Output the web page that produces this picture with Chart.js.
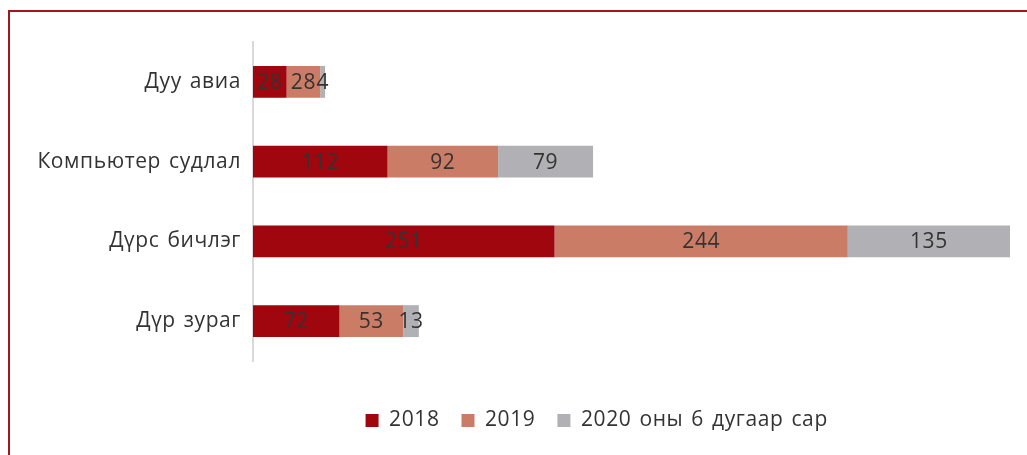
<!DOCTYPE html>
<html>
<head>
<meta charset="utf-8">
<script src="https://cdn.jsdelivr.net/npm/chart.js@4"></script>
<style>
    html, body { margin: 0; padding: 0; background: #fff; }
    #wrap { position: relative; width: 1027px; height: 455px; overflow: hidden; }
    #frame { position: absolute; left: 8px; top: 10px; right: -5px; bottom: -5px;
             border-top: 2px solid #A3161C; border-left: 2px solid #A3161C; }
    canvas { position: absolute; left: 0; top: 0; }
</style>
</head>
<body>
<div id="wrap">
    <div id="frame"></div>
    <canvas id="chart" width="1027" height="455"></canvas>
</div>
<script>
const categories = ['Дуу авиа', 'Компьютер судлал', 'Дүрс бичлэг', 'Дүр зураг'];
const seriesNames = ['2018', '2019', '2020 оны 6 дугаар сар'];
const values2018 = [28, 112, 251, 72];
const values2019 = [28, 92, 244, 53];
const values2020 = [4, 79, 135, 13];
const colors = ['#A0060E', '#CB7C66', '#B1B1B5'];

const textColor = '#333333';
const fontFamily = '"Open Sans", "DejaVu Sans", sans-serif';
const fontSize = 21;

// the original lettering is a little more open than Open Sans
const spacing = {
    id: 'spacing',
    beforeDraw(chart) {
        chart.ctx.letterSpacing = '0.6px';
        chart.ctx.wordSpacing = '2px';
    }
};

// write each value in the middle of its segment
const segmentLabels = {
    id: 'segmentLabels',
    afterDatasetsDraw(chart) {
        const ctx = chart.ctx;
        ctx.save();
        ctx.font = fontSize + 'px ' + fontFamily;
        ctx.fillStyle = textColor;
        ctx.textAlign = 'center';
        ctx.textBaseline = 'middle';
        chart.data.datasets.forEach((ds, i) => {
            chart.getDatasetMeta(i).data.forEach((bar, j) => {
                const p = bar.getProps(['x', 'y', 'base'], true);
                ctx.fillText(ds.data[j], (p.x + p.base) / 2, p.y + 1);
            });
        });
        ctx.restore();
    }
};

// legend sits under the middle of the plot, not the canvas
const legendShift = {
    id: 'legendShift',
    afterLayout(chart) {
        const lg = chart.legend;
        const dx = 584 - (lg.left + lg.right) / 2;
        lg.left += dx;
        lg.right += dx;
    }
};

new Chart(document.getElementById('chart').getContext('2d'), {
    type: 'bar',
    data: {
        labels: categories,
        datasets: [values2018, values2019, values2020].map((d, i) => ({
            label: seriesNames[i],
            data: d,
            backgroundColor: colors[i],
            barPercentage: 0.8,
            categoryPercentage: 0.5
        }))
    },
    options: {
        indexAxis: 'y',
        responsive: false,
        animation: false,
        layout: { padding: { left: 20, right: 17, top: 42, bottom: 14 } },
        scales: {
            x: {
                stacked: true, min: 0, max: 630,
                grid: { display: false },
                border: { display: false },
                ticks: { display: false },
                afterFit(scale) { scale.height = 27; }
            },
            y: {
                stacked: true,
                grid: { display: false },
                border: { display: true, color: '#D9D9D9', width: 2 },
                ticks: { color: textColor, padding: 4, font: { size: fontSize, family: fontFamily } },
                afterFit(scale) { scale.width = 233; }
            }
        },
        plugins: {
            legend: {
                position: 'bottom',
                labels: {
                    color: textColor,
                    boxWidth: 13,
                    boxHeight: 13,
                    padding: 22,
                    font: { size: fontSize, family: fontFamily }
                }
            },
            tooltip: { enabled: false }
        }
    },
    plugins: [spacing, segmentLabels, legendShift]
});
</script>
</body>
</html>
